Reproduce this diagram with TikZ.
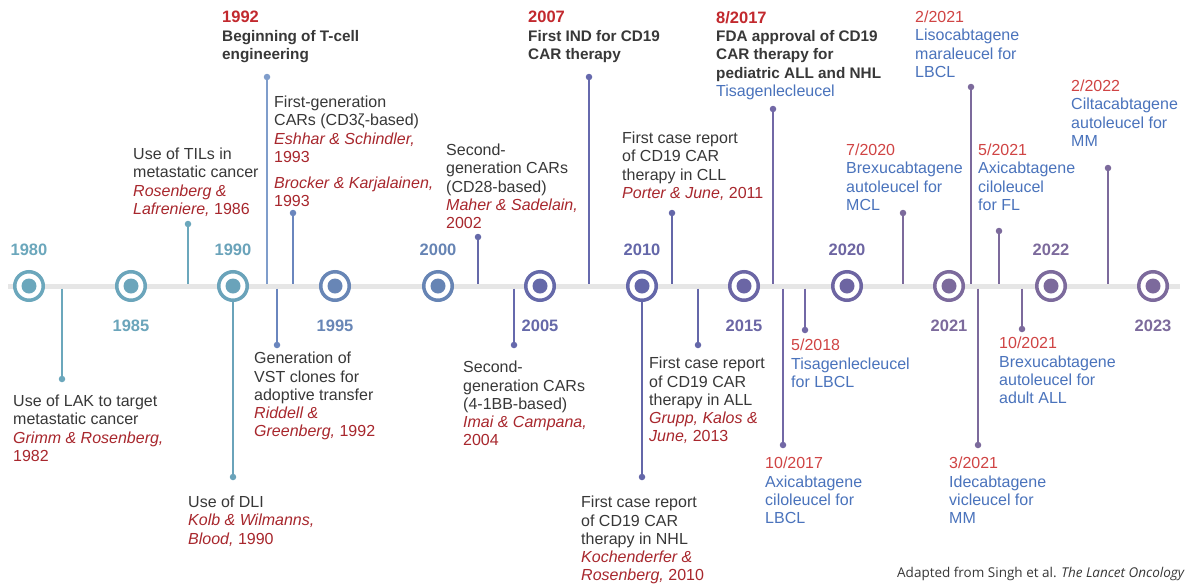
\documentclass[tikz,border=0pt]{standalone}
\usepackage{fontspec}
\setmainfont{Liberation Sans}
\newfontfamily\notefont{Open Sans}
\usepackage{xcolor}
\usetikzlibrary{positioning}

% text colours
\definecolor{axisgray}{HTML}{E6E6E6}
\definecolor{txtdark}{HTML}{383838}
\definecolor{citered}{HTML}{A8272D}
\definecolor{datered}{HTML}{D04444}
\definecolor{boldred}{HTML}{C2292E}
\definecolor{drugblue}{HTML}{4A73BC}
% timeline colours, teal to purple
\definecolor{c80}{HTML}{6BA7BC}
\definecolor{c85}{HTML}{6BA5BB}
\definecolor{c90}{HTML}{6AA3BA}
\definecolor{c95}{HTML}{6886B6}
\definecolor{c00}{HTML}{6684B4}
\definecolor{c05}{HTML}{6569A9}
\definecolor{c10}{HTML}{6467A9}
\definecolor{c15}{HTML}{6B66A5}
\definecolor{c20}{HTML}{6D65A2}
\definecolor{c21}{HTML}{7C6A9C}
\definecolor{lnblue}{HTML}{7F9DCB}
\definecolor{lnmid}{HTML}{6A86BE}
\definecolor{lnviol}{HTML}{6669AD}
\definecolor{lnpurp}{HTML}{7268A6}

\newcommand{\au}[1]{\textcolor{citered}{\itshape #1}}
\newcommand{\yr}[1]{\textcolor{citered}{#1}}
\newcommand{\evdate}[1]{\textcolor{datered}{#1}}
\newcommand{\drug}[1]{\textcolor{drugblue}{#1}}
\newcommand{\keydate}[1]{\textcolor{boldred}{\fontsize{16.5}{18.4}\selectfont #1}}

\tikzset{
  axisline/.style={line width=5pt, draw=axisgray},
  yearring/.style={circle, draw=#1, line width=3.5pt, fill=white, minimum size=28.5pt,
    inner sep=0pt, path picture={\fill[#1] (path picture bounding box.center) circle (7.5pt);}},
  yearlbl/.style={text=#1, inner sep=0pt, font=\fontsize{16.5}{18}\selectfont\bfseries},
  evline/.style={line width=1.6pt, draw=#1},
  evdot/.style={circle, fill=#1, inner sep=0pt, minimum size=6.5pt},
  evtext/.style={anchor=north west, inner sep=0pt, align=left, text=txtdark,
    font=\fontsize{16}{18.2}\selectfont},
  keytext/.style={evtext, font=\fontsize{15.3}{18.4}\selectfont\bfseries}
}

\begin{document}
\begin{tikzpicture}[x=1pt, y=-1pt]
    \fill[white] (0,0) rectangle (1190,584);
    \useasboundingbox (0,0) rectangle (1190,584);

    % Axis
    \draw[axisline] (8,286) -- (1180,286);

    % Year rings
    \node[yearring=c80] (y1980) at (29,286) {};
    \node[yearring=c85] (y1985) at (131,286) {};
    \node[yearring=c90] (y1990) at (233,286) {};
    \node[yearring=c95] (y1995) at (335,286) {};
    \node[yearring=c00] (y2000) at (438,286) {};
    \node[yearring=c05] (y2005) at (540,286) {};
    \node[yearring=c10] (y2010) at (642,286) {};
    \node[yearring=c15] (y2015) at (744,286) {};
    \node[yearring=c20] (y2020) at (847,286) {};
    \node[yearring=c21] (y2021) at (949,286) {};
    \node[yearring=c21] (y2022) at (1051,286) {};
    \node[yearring=c21] (y2023) at (1153,286) {};

    % Year labels
    \node[yearlbl=c80, above=14pt of y1980] (l1980) {1980};
    \node[yearlbl=c85, below=18pt of y1985] (l1985) {1985};
    \node[yearlbl=c90, above=14pt of y1990] (l1990) {1990};
    \node[yearlbl=c95, below=18pt of y1995] (l1995) {1995};
    \node[yearlbl=c00, above=14pt of y2000] (l2000) {2000};
    \node[yearlbl=c05, below=18pt of y2005] (l2005) {2005};
    \node[yearlbl=c10, above=14pt of y2010] (l2010) {2010};
    \node[yearlbl=c15, below=18pt of y2015] (l2015) {2015};
    \node[yearlbl=c20, above=14pt of y2020] (l2020) {2020};
    \node[yearlbl=c21, below=18pt of y2021] (l2021) {2021};
    \node[yearlbl=c21, above=14pt of y2022] (l2022) {2022};
    \node[yearlbl=c21, below=18pt of y2023] (l2023) {2023};

    % Events above the axis
    \coordinate (aTIL) at (188,283.5);
    \node[evdot=c80] (dTIL) at (188,224) {};
    \draw[evline=c80] (aTIL) -- (dTIL);
    \node[evtext] (tTIL) at (133,148) {Use of TILs in\\metastatic cancer\\
        \au{Rosenberg \&}\\\au{Lafreniere,} \yr{1986}};

    \coordinate (aTcell) at (267,283.5);
    \node[evdot=lnblue] (dTcell) at (267,77) {};
    \draw[evline=lnblue] (aTcell) -- (dTcell);
    \node[keytext] (tTcell) at (222,11) {\keydate{1992}\\Beginning of T-cell\\engineering};

    \coordinate (aGen1) at (293,283.5);
    \node[evdot=lnmid] (dGen1) at (293,213) {};
    \draw[evline=lnmid] (aGen1) -- (dGen1);
    \node[evtext] (tGen1) at (274,96) {First-generation\\CARs (CD3ζ-based)\\
        \au{Eshhar \& Schindler,}\\\yr{1993}\\[8pt]\au{Brocker \& Karjalainen,}\\\yr{1993}};

    \coordinate (aCD28) at (478,283.5);
    \node[evdot=c05] (dCD28) at (478,237) {};
    \draw[evline=c05] (aCD28) -- (dCD28);
    \node[evtext] (tCD28) at (446,144) {Second-\\generation CARs\\(CD28-based)\\
        \au{Maher \& Sadelain,}\\\yr{2002}};

    \coordinate (aIND) at (589,283.5);
    \node[evdot=lnviol] (dIND) at (589,77) {};
    \draw[evline=lnviol] (aIND) -- (dIND);
    \node[keytext] (tIND) at (528,11) {\keydate{2007}\\First IND for CD19\\CAR therapy};

    \coordinate (aCLL) at (672,283.5);
    \node[evdot=c10] (dCLL) at (672,213) {};
    \draw[evline=c10] (aCLL) -- (dCLL);
    \node[evtext] (tCLL) at (622,132) {First case report\\of CD19 CAR\\therapy in CLL\\
        \au{Porter \& June,} \yr{2011}};

    \coordinate (aFDA) at (773,283.5);
    \node[evdot=lnpurp] (dFDA) at (773,109) {};
    \draw[evline=lnpurp] (aFDA) -- (dFDA);
    \node[keytext] (tFDA) at (716,11) {\keydate{8/2017}\\FDA approval of CD19\\CAR therapy for\\
        pediatric ALL and NHL\\{\mdseries\fontsize{16}{18.4}\selectfont\drug{Tisagenlecleucel}}};

    \coordinate (aMCL) at (903,283.5);
    \node[evdot=c21] (dMCL) at (903,213) {};
    \draw[evline=c21] (aMCL) -- (dMCL);
    \node[evtext] (tMCL) at (846,144) {\evdate{7/2020}\\\drug{Brexucabtagene}\\
        \drug{autoleucel for}\\\drug{MCL}};

    \coordinate (aLiso) at (971,283.5);
    \node[evdot=c21] (dLiso) at (971,87) {};
    \draw[evline=c21] (aLiso) -- (dLiso);
    \node[evtext] (tLiso) at (915,11) {\evdate{2/2021}\\\drug{Lisocabtagene}\\
        \drug{maraleucel for}\\\drug{LBCL}};

    \coordinate (aFL) at (999,283.5);
    \node[evdot=c21] (dFL) at (999,231) {};
    \draw[evline=c21] (aFL) -- (dFL);
    \node[evtext] (tFL) at (978,144) {\evdate{5/2021}\\\drug{Axicabtagene}\\
        \drug{ciloleucel}\\\drug{for FL}};

    \coordinate (aCilta) at (1108,283.5);
    \node[evdot=c21] (dCilta) at (1108,168) {};
    \draw[evline=c21] (aCilta) -- (dCilta);
    \node[evtext] (tCilta) at (1071,80) {\evdate{2/2022}\\\drug{Ciltacabtagene}\\
        \drug{autoleucel for}\\\drug{MM}};

    % Events below the axis
    \coordinate (aLAK) at (62,288.5);
    \node[evdot=c80] (dLAK) at (62,379) {};
    \draw[evline=c80] (aLAK) -- (dLAK);
    \node[evtext] (tLAK) at (13,395) {Use of LAK to target\\metastatic cancer\\
        \au{Grimm \& Rosenberg,}\\\yr{1982}};

    \node[evdot=c90] (dDLI) at (233,477) {};
    \draw[evline=c90] (y1990.south) -- (dDLI);
    \node[evtext] (tDLI) at (188,496) {Use of DLI\\\au{Kolb \& Wilmanns,}\\
        \au{Blood,} \yr{1990}};

    \coordinate (aVST) at (277,288.5);
    \node[evdot=lnmid] (dVST) at (277,345) {};
    \draw[evline=lnmid] (aVST) -- (dVST);
    \node[evtext] (tVST) at (254,352) {Generation of\\VST clones for\\adoptive transfer\\
        \au{Riddell \&}\\\au{Greenberg,} \yr{1992}};

    \coordinate (a41BB) at (514,288.5);
    \node[evdot=lnviol] (d41BB) at (514,345) {};
    \draw[evline=lnviol] (a41BB) -- (d41BB);
    \node[evtext] (t41BB) at (463,361) {Second-\\generation CARs\\(4-1BB-based)\\
        \au{Imai \& Campana,}\\\yr{2004}};

    \node[evdot=c10] (dNHL) at (642,477) {};
    \draw[evline=c10] (y2010.south) -- (dNHL);
    \node[evtext] (tNHL) at (581,496) {First case report\\of CD19 CAR\\therapy in NHL\\
        \au{Kochenderfer \&}\\\au{Rosenberg,} \yr{2010}};

    \coordinate (aALL) at (698,288.5);
    \node[evdot=c10] (dALL) at (698,345) {};
    \draw[evline=c10] (aALL) -- (dALL);
    \node[evtext] (tALL) at (649,357) {First case report\\of CD19 CAR\\therapy in ALL\\
        \au{Grupp, Kalos \&}\\\au{June,} \yr{2013}};

    \coordinate (aAxi) at (783,288.5);
    \node[evdot=lnpurp] (dAxi) at (783,445) {};
    \draw[evline=lnpurp] (aAxi) -- (dAxi);
    \node[evtext] (tAxi) at (765,457) {\evdate{10/2017}\\\drug{Axicabtagene}\\
        \drug{ciloleucel for}\\\drug{LBCL}};

    \coordinate (aTisa) at (805,288.5);
    \node[evdot=lnpurp] (dTisa) at (805,330) {};
    \draw[evline=lnpurp] (aTisa) -- (dTisa);
    \node[evtext] (tTisa) at (791,339) {\evdate{5/2018}\\\drug{Tisagenlecleucel}\\
        \drug{for LBCL}};

    \coordinate (aIde) at (978,288.5);
    \node[evdot=c21] (dIde) at (978,445) {};
    \draw[evline=c21] (aIde) -- (dIde);
    \node[evtext] (tIde) at (949,457) {\evdate{3/2021}\\\drug{Idecabtagene}\\
        \drug{vicleucel for}\\\drug{MM}};

    \coordinate (aBrexu) at (1022,288.5);
    \node[evdot=c21] (dBrexu) at (1022,329) {};
    \draw[evline=c21] (aBrexu) -- (dBrexu);
    \node[evtext] (tBrexu) at (999,337) {\evdate{10/2021}\\\drug{Brexucabtagene}\\
        \drug{autoleucel for}\\\drug{adult ALL}};

    % Source note
    \node[anchor=base east, inner sep=0pt, text=txtdark, font=\notefont\fontsize{13.5}{16}\selectfont]
        (source) at (1185,577) {Adapted from Singh et al. \textit{The Lancet Oncology}};
\end{tikzpicture}
\end{document}
